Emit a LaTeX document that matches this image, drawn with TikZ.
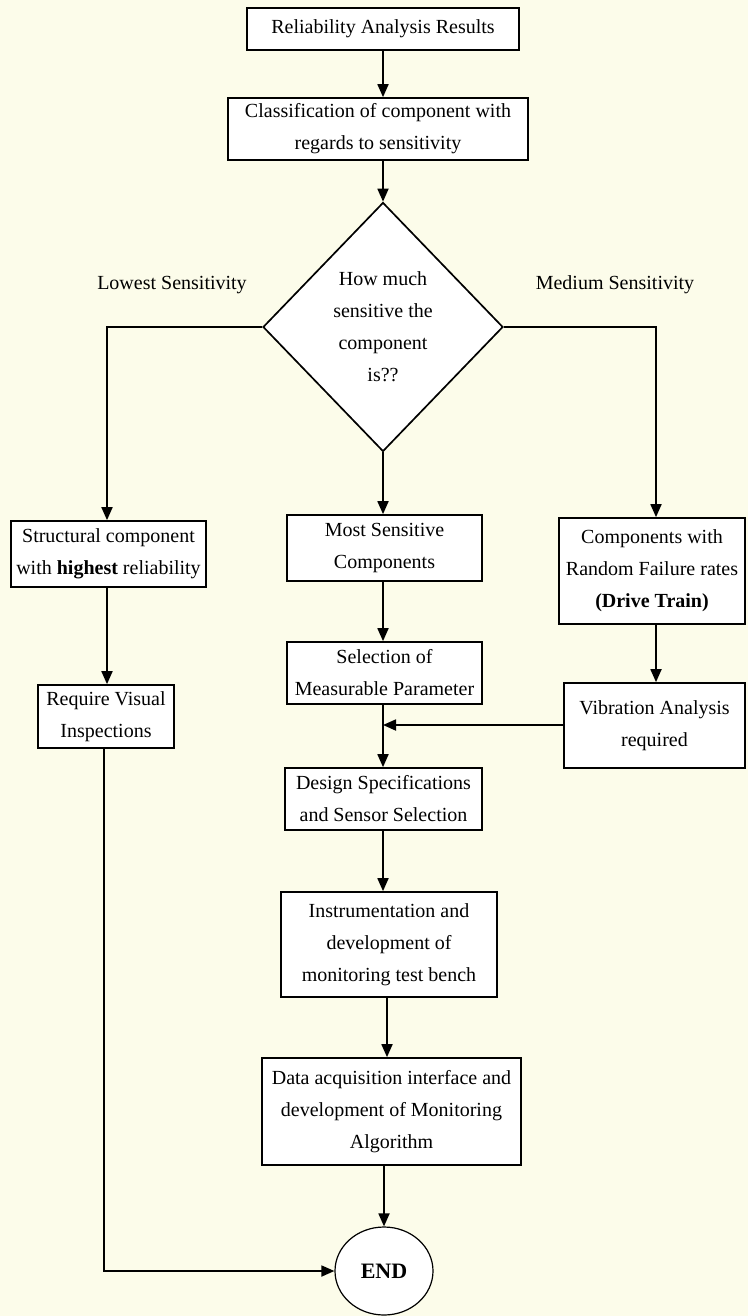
\documentclass[tikz,border=0pt]{standalone}
\usepackage{fontspec}
\setmainfont{Liberation Serif}
\usetikzlibrary{shapes.geometric,arrows.meta}
\definecolor{paper}{RGB}{252,252,234}
\begin{document}
\begin{tikzpicture}[x=1pt,y=-1pt,
  every node/.style={font=\fontsize{20}{32}\selectfont},
  box/.style={draw, line width=1.7pt, fill=white, align=center, inner sep=0pt},
  sz/.style 2 args={minimum width=#1pt, minimum height=#2pt},
  link/.style={line width=1.8pt},
  flow/.style={link, -{Triangle[length=13pt,width=11pt]}},
  tag/.style={inner sep=0pt}
]
\fill[paper] (0,0) rectangle (748,1316);
\useasboundingbox (0,0) rectangle (748,1316);

% main column position
\coordinate (trunk) at (383,0);
% height of the side feed into the main column
\coordinate (feed) at (0,725);

% boxes
\node[box, sz={272}{42}] (rel) at (383,29) {Reliability Analysis Results};
\node[box, sz={300}{62}] (cls) at (378,129) {Classification of component with\\regards to sensitivity};
\node[box, diamond, minimum width=240pt, minimum height=249pt, aspect=0.964] (dec) at (383,327)
  {How much\\sensitive the\\component\\is??};

\node[tag] (low) at (172,285) {Lowest Sensitivity};
\node[tag] (med) at (615,285) {Medium Sensitivity};

\node[box, sz={195}{66}] (str) at (108.5,554) {Structural component\\with \textbf{highest} reliability};
\node[box, sz={195}{66}] (most) at (384.5,548) {Most Sensitive\\Components};
\node[box, sz={186}{106}] (rnd) at (652,571) {Components with\\Random Failure rates\\\textbf{(Drive Train)}};

\node[box, sz={195}{62}] (sel) at (384.5,673) {Selection of\\Measurable Parameter};
\node[box, sz={136}{63}] (vis) at (106,716.5) {Require Visual\\Inspections};
\node[box, sz={181}{85}] (vib) at (654.5,725.5) {Vibration Analysis\\required};

\node[box, sz={197}{62}] (des) at (383.5,799) {Design Specifications\\and Sensor Selection};
\node[box, sz={216}{105}] (ins) at (389,944.5) {Instrumentation and\\development of\\monitoring test bench};
\node[box, sz={259}{107}] (daq) at (391.5,1111.5) {Data acquisition interface and\\development of Monitoring\\Algorithm};
\node[draw, ellipse, line width=1.2pt, fill=white, minimum width=98pt, minimum height=88pt, inner sep=0pt,
  font=\fontsize{22}{26}\selectfont\bfseries]
  (end) at (384,1271) {END};

% connectors
\draw[flow] (rel.south -| trunk) -- (cls.north -| trunk);
\draw[flow] (cls.south -| trunk) -- (dec.north);
\draw[flow] (dec.west) -| (str.north -| 107,0);
\draw[flow] (dec.east) -| (rnd.north -| 656,0);
\draw[flow] (dec.south) -- (most.north -| trunk);
\draw[flow] (most.south -| trunk) -- (sel.north -| trunk);
\draw[flow] (str.south -| 107,0) -- (vis.north -| 107,0);
\draw[flow] (rnd.south -| 656,0) -- (vib.north -| 656,0);
\draw[flow] (sel.south -| trunk) -- (des.north -| trunk);
\draw[flow] (vib.west |- feed) -- (trunk |- feed);
\draw[flow] (des.south -| trunk) -- (ins.north -| trunk);
\draw[flow] (ins.south -| 387,0) -- (daq.north -| 387,0);
\draw[flow] (daq.south -| end.north) -- (end.north);
\draw[flow] (vis.south -| 104,0) |- (end.west);
\end{tikzpicture}
\end{document}
